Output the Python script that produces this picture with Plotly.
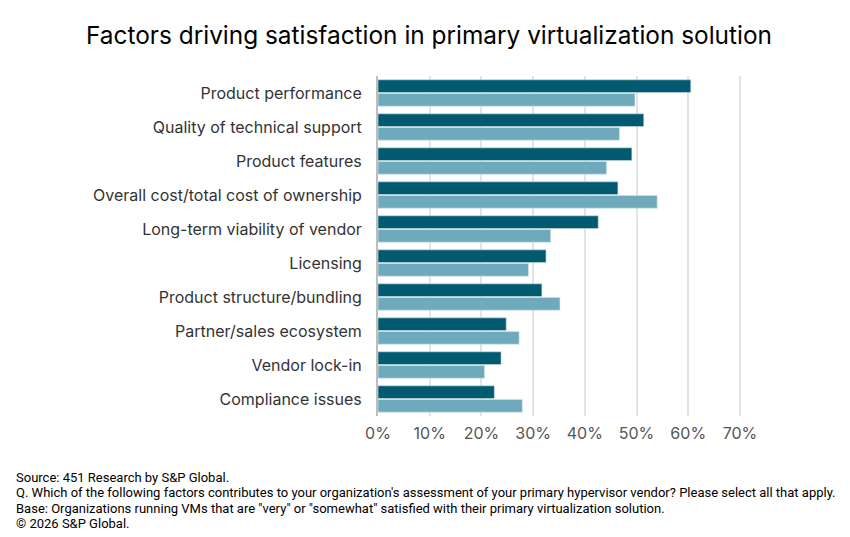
import plotly.graph_objects as go

# categories, top to bottom as in the picture
categories = [
    "Product performance",
    "Quality of technical support",
    "Product features",
    "Overall cost/total cost of ownership",
    "Long-term viability of vendor",
    "Licensing",
    "Product structure/bundling",
    "Partner/sales ecosystem",
    "Vendor lock-in",
    "Compliance issues",
]

# dark series (upper bar in each group), in %
series_dark = [60.5, 51.4, 49.1, 46.4, 42.6, 32.5, 31.7, 24.8, 23.8, 22.5]
# light series (lower bar in each group), in %
series_light = [49.7, 46.7, 44.2, 54.0, 33.4, 29.1, 35.2, 27.3, 20.6, 27.9]

tick_vals = [0, 10, 20, 30, 40, 50, 60, 70]
tick_text = ["0%", "10%", "20%", "30%", "40%", "50%", "60%", "70%"]

title_text = "Factors driving satisfaction in primary virtualization solution"
footer_lines = [
    "Source: 451 Research by S&P Global.",
    "Q. Which of the following factors contributes to your organization's assessment "
    "of your primary hypervisor vendor? Please select all that apply.",
    "Base: Organizations running VMs that are \"very\" or \"somewhat\" satisfied "
    "with their primary virtualization solution.",
    "© 2026 S&P Global.",
]

DARK = "#025a70"
LIGHT = "#6eaabb"

# the page body has an 8px margin, so the figure is drawn 8px smaller
W, H = 842, 529
ML, MR, MT, MB = 370, 108, 68, 121
plot_w = W - ML - MR
plot_h = H - MT - MB

fig = go.Figure()
# with the reversed category axis the first trace ends up on top in each group
fig.add_trace(go.Bar(
    y=categories, x=series_dark, orientation="h",
    marker=dict(color=DARK, line=dict(color="#cfe0e6", width=0.6)),
    showlegend=False, hoverinfo="x+y",
))
fig.add_trace(go.Bar(
    y=categories, x=series_light, orientation="h",
    marker=dict(color=LIGHT, line=dict(color="#d6e8ee", width=0.6)),
    showlegend=False, hoverinfo="x+y",
))

annotations = []
for i, line in enumerate(footer_lines):
    y_px = 468 - 8 + i * 15.3  # top of each line, in page pixels minus body margin
    annotations.append(dict(
        text=line, xref="paper", yref="paper",
        x=(6 - ML) / plot_w, y=-(y_px - (MT + plot_h)) / plot_h,
        xanchor="left", yanchor="top", align="left", showarrow=False,
        font=dict(family="Liberation Sans Narrow, Roboto, sans-serif", size=13, color="#000000"),
    ))

fig.update_layout(
    width=W, height=H,
    paper_bgcolor="white", plot_bgcolor="white",
    margin=dict(l=ML, r=MR, t=MT, b=MB),
    barmode="group", bargap=0.2, bargroupgap=0.06,
    font=dict(family="Inter, Roboto, sans-serif", color="#333333"),
    title=dict(
        text=title_text, x=0.5, xanchor="center", y=1 - 27 / H, yanchor="middle",
        font=dict(family="Inter, Roboto, sans-serif", size=24.4, color="#000000"),
    ),
    xaxis=dict(
        range=[0, 70.4], tickvals=tick_vals, ticktext=tick_text,
        showgrid=True, gridcolor="#e3e3e3", gridwidth=1.5,
        zeroline=False, showline=False,
        tickfont=dict(size=16, color="#555555"),
        ticks="", ticklabelstandoff=6, fixedrange=True,
    ),
    yaxis=dict(
        autorange="reversed", showgrid=False, zeroline=False,
        showline=True, linecolor="#bdbdbd", linewidth=2,
        tickfont=dict(size=16, color="#333333"),
        ticks="", ticklabelstandoff=11, fixedrange=True,
    ),
    annotations=annotations,
)

fig.write_html("out.html")
